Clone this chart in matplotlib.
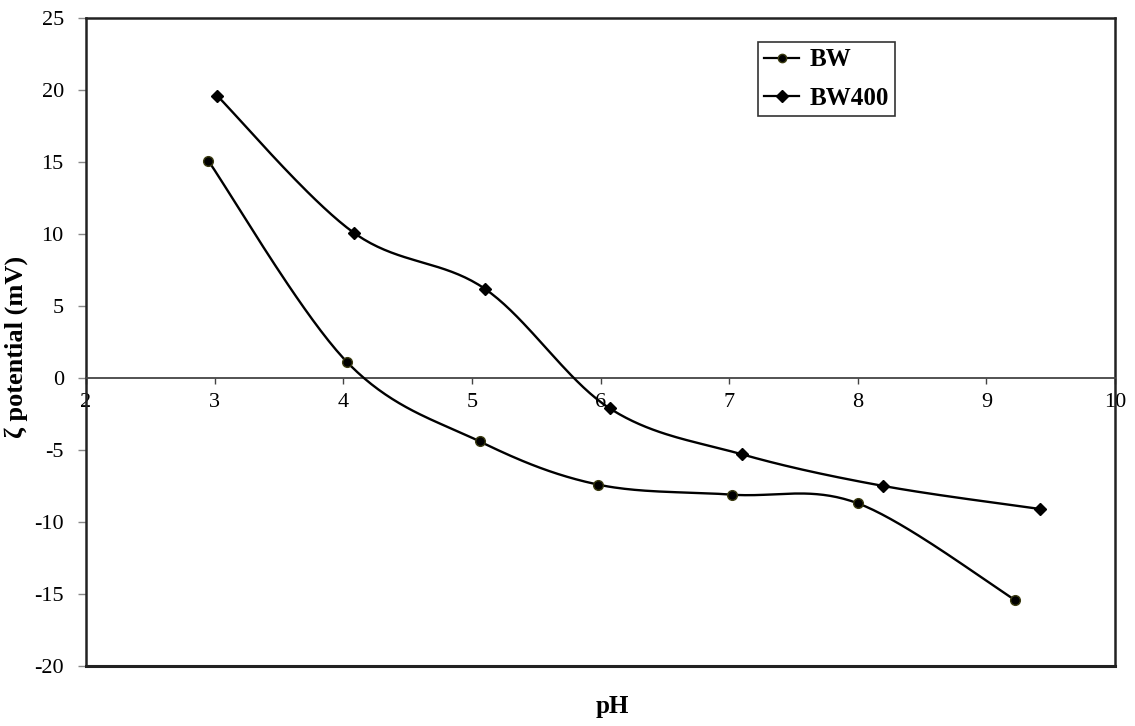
import numpy as np
import matplotlib
matplotlib.use("Agg")
import matplotlib.pyplot as plt
from matplotlib.lines import Line2D

# Data
bw_ph = [2.95, 4.03, 5.06, 5.98, 7.02, 8.0, 9.22]
bw_zeta = [15.1, 1.1, -4.4, -7.4, -8.1, -8.7, -15.4]
bw400_ph = [3.02, 4.08, 5.10, 6.07, 7.10, 8.2, 9.42]
bw400_zeta = [19.6, 10.1, 6.2, -2.1, -5.3, -7.5, -9.1]
xticks = [2, 3, 4, 5, 6, 7, 8, 9, 10]
yticks = [-20, -15, -10, -5, 0, 5, 10, 15, 20, 25]
series_names = ["BW", "BW400"]

plt.rcParams['font.family'] = ['Liberation Serif', 'DejaVu Serif']

W, H = 1135, 726
fig = plt.figure(figsize=(W / 100, H / 100), dpi=100)
L, R, T, B = 86, 1115, 18, 666
ax = fig.add_axes([L / W, 1 - B / H, (R - L) / W, (B - T) / H])
ax.set_xlim(2, 10)
ax.set_ylim(-20, 25)

sx = (R - L) / 8.0
sy = (B - T) / 45.0


def smooth(xs, ys, n=40):
    px = np.array(xs) * sx
    py = np.array(ys) * sy
    P = np.column_stack([px, py])
    m = len(P)
    out = []
    for i in range(m - 1):
        p0 = P[i - 1] if i > 0 else P[i]
        p1 = P[i]
        p2 = P[i + 1]
        p3 = P[i + 2] if i + 2 < m else P[i + 1]
        c1 = p1 + (p2 - p0) / 6.0
        c2 = p2 - (p3 - p1) / 6.0
        t = np.linspace(0, 1, n)[:, None]
        seg = ((1 - t) ** 3) * p1 + 3 * ((1 - t) ** 2) * t * c1 + 3 * (1 - t) * t ** 2 * c2 + t ** 3 * p2
        out.append(seg if i == 0 else seg[1:])
    S = np.vstack(out)
    return S[:, 0] / sx, S[:, 1] / sy


x1, y1 = smooth(bw_ph, bw_zeta)
x2, y2 = smooth(bw400_ph, bw400_zeta)
ax.plot(x1, y1, color='black', lw=1.7, zorder=3)
ax.plot(x2, y2, color='black', lw=1.7, zorder=3)
ax.plot(bw_ph, bw_zeta, ls='none', marker='o', ms=7, mfc='black', mec='#3a3a10', mew=1, zorder=4)
ax.plot(bw400_ph, bw400_zeta, ls='none', marker='D', ms=6.5, mfc='black', mec='black', zorder=4)

# Frame
for s in ['left', 'right', 'top']:
    ax.spines[s].set_linewidth(1.8)
    ax.spines[s].set_color('#222222')
ax.spines['bottom'].set_position(('data', 0))
ax.spines['bottom'].set_linewidth(1.3)
ax.spines['bottom'].set_color('#444444')
ax.plot([0, 1], [0, 0], transform=ax.transAxes, color='#222222', lw=2.2, clip_on=False, zorder=5)

ax.set_xticks(xticks)
ax.set_yticks(yticks)
ax.set_xticklabels([str(v) for v in xticks])
ax.set_yticklabels([str(v) for v in yticks])
ax.tick_params(axis='x', direction='out', length=4, width=1, color='#444444', labelsize=16, pad=7)
ax.tick_params(axis='y', direction='out', length=6, width=1, color='#888888', labelsize=16, pad=10)

fig.text(16 / W, 1 - 347 / H, "ζ potential (mV)", rotation=90, ha='center', va='center',
         fontsize=19, fontweight='bold')
fig.text(612 / W, 1 - 706 / H, "pH", ha='center', va='center', fontsize=18, fontweight='bold')

handles = [
    Line2D([], [], color='black', lw=1.6, marker='o', ms=6, mfc='black', mec='#3a3a10'),
    Line2D([], [], color='black', lw=1.6, marker='D', ms=6, mfc='black', mec='black'),
]
leg = fig.legend(handles, series_names, loc='upper left', bbox_to_anchor=(758 / W, 1 - 42 / H),
                 frameon=True, fancybox=False, edgecolor='#333333', framealpha=1,
                 prop={'weight': 'bold', 'size': 18}, handlelength=1.4, handletextpad=0.4,
                 borderpad=0.25, labelspacing=0.62, borderaxespad=0)
leg.get_frame().set_linewidth(1.2)

fig.savefig("out.png", dpi=100)
